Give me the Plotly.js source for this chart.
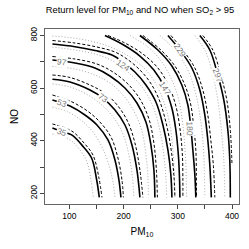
<!DOCTYPE html>
<html><head><meta charset="utf-8">
<script src="https://cdn.plot.ly/plotly-3.0.1.min.js"></script>
<style>html,body{margin:0;padding:0;background:#fff}</style>
</head><body><div id="chart" style="width:249px;height:249px"></div>
<script>
const levels = ["35","53","73","97","124","147","180","229","297"];
// solid contour paths (point estimate)
const solidX = [
  [68.9,86.0,104.4,125.8,141.3,150.5,155.3],
  [68.9,101.3,128.9,151,171.3,184.2,191.5,195.2],
  [68.9,101.3,138.1,162,184.2,202.6,215.5,224.7,230.2],
  [68.9,110.5,147.3,175,202.6,224.7,241.3,250.5,256,257.8],
  [68.9,110.5,147.3,178.6,198.9,221,241.3,259.7,272.6,281.8,287.3,289.2],
  [165.7,197.1,230.2,255.9,276.2,289.1,296.5,301.1,303.3,303.9],
  [230.2,263.3,289.1,307.5,318.6,324.1,327.8,331.5,333.3],
  [281.8,303.9,326,340.7,349.9,355.4,359.1,361.9],
  [340.7,359.1,373.8,384.9,392.3,395.9,396.9]
];
const solidY = [
  [448.6,435.3,421.9,377.2,333.1,250.6,184.4],
  [554.8,531.9,497.7,459.7,402.7,326.7,250.6,184.4],
  [633.4,623.2,592.8,562.3,516.8,459.7,383.7,288.7,184.4],
  [706.8,695.4,676.4,646,600.4,543.3,471.1,383.7,288.7,184.4],
  [767.7,757.4,742.9,725.8,699.2,661.2,611.8,547.2,459.7,364.7,269.7,184.4],
  [800,767.6,722,668.8,600.4,524.3,440.7,345.6,250.6,184.4],
  [800,744.9,684,611.8,535.8,448.4,364.7,269.7,184.4],
  [800,744.9,676.4,592.8,497.7,402.7,307.7,184.4],
  [800,744.9,649.9,554.8,440.8,326.7,184.4]
];
// dashed contour paths
const dashX = [
  [68.9,104.4,127.1,143.6,154.7,160.2],
  [68.9,101.3,130.8,154.7,176.8,189.7,197.1,199.8],
  [68.9,101.3,140.0,167.6,189.7,208.1,221.0,230.2,235.7],
  [68.9,110.5,151.0,180.5,208.1,230.2,246.8,255.9,260.6,262.4],
  [68.9,110.5,151.0,184.2,206.3,228.4,248.6,265.2,278.1,287.3,292.8,294.7],
  [171.3,202.6,235.7,263.4,283.6,296.5,303.9,308.5,309.4,309.4],
  [235.7,268.9,294.7,313.1,324.1,329.6,333.3,334.3,334.6],
  [287.3,309.4,331.5,346.2,355.4,360.9,365.6,368.3],
  [346.2,364.6,379.4,390.4,396.9,400]
];
const dashY = [
  [463.5,436.9,391.3,345.6,258.2,184.4],
  [573.7,550.9,516.7,474.9,414.1,334.2,250.6,184.4],
  [649.8,640.3,609.9,577.6,531.9,471.1,391.3,288.6,184.4],
  [720.1,710.6,691.6,661.2,615.6,558.5,482.5,391.3,288.6,184.4],
  [781.0,771.4,756.2,737.2,710.6,672.6,623.2,558.5,471.1,372.3,269.6,184.4],
  [800,771.4,729.6,676.4,608,531.9,448.3,345.6,250.6,184.4],
  [800,744.8,684.0,611.8,535.7,448.3,364.7,269.6,184.4],
  [800,744.8,676.4,592.8,497.7,402.7,307.6,184.4],
  [800,744.8,649.8,554.7,440.7,307.6]
];
// dotted grey contour paths
const dotX = [
  [68.9,101.3,119.7,132.6,140.0,144.2],
  [68.9,97.6,123.4,143.6,160.2,173.1,180.5,184.2],
  [68.9,101.3,134.4,160.2,182.3,198.9,210.0,216.4,219.1],
  [68.9,110.5,147.3,175.0,198.9,219.1,233.9,241.3,245.0,245.9],
  [68.9,110.5,147.3,180.5,208.1,233.9,254.1,267.0,274.4,278.1,279.4],
  [68.9,119.7,165.7,202.6,233.9,257.8,274.4,285.5,291.0,293.7,294.7],
  [211.8,245.0,270.7,289.1,302.0,309.4,314.0,315.8,316.2],
  [267.0,294.7,316.8,331.5,340.7,346.2,349.0,349.9],
  [331.5,351.7,364.6,373.8,380.3,384.9,386.7]
];
const dotY = [
  [425.5,402.7,364.7,319.0,250.6,184.4],
  [528.1,509.1,474.9,433.1,376.1,307.6,243.0,184.4],
  [615.6,604.2,573.7,535.7,486.3,425.5,345.6,262.0,184.4],
  [682.1,672.6,649.8,619.4,573.7,512.9,436.9,345.6,262.0,184.4],
  [756.2,744.8,729.6,703.0,661.2,604.2,531.9,440.7,345.6,262.0,184.4],
  [798.1,786.7,763.8,729.6,684.0,623.2,547.1,459.7,364.7,269.6,184.4],
  [800,756.2,699.2,630.8,554.7,459.7,345.6,250.6,184.4],
  [800,744.8,676.4,592.8,497.7,402.7,288.6,184.4],
  [800,737.2,649.8,554.7,440.7,326.6,184.4]
];
const labelX = [86,86,162.6,86,198.3,276.2,322,303.9,373.8];
const labelY = [434,544,561,700,688,600.4,448,745,650];
const labelAngle = [20,20,35,8,35,58,88,55,70];

const traces = [];
for (let i = 0; i < levels.length; i++) {
  traces.push({x: dotX[i], y: dotY[i], mode: 'lines', type: 'scatter',
    line: {color: '#a8a8a8', width: 1, dash: '1px,2px', shape: 'spline'}, hoverinfo: 'skip', showlegend: false});
}
for (let i = 0; i < levels.length; i++) {
  traces.push({x: dashX[i], y: dashY[i], mode: 'lines', type: 'scatter',
    line: {color: '#000', width: 1, dash: '3px,2px', shape: 'spline'}, hoverinfo: 'skip', showlegend: false});
}
for (let i = 0; i < levels.length; i++) {
  traces.push({x: solidX[i], y: solidY[i], mode: 'lines', type: 'scatter',
    line: {color: '#000', width: 1.6, shape: 'spline'}, hoverinfo: 'skip', showlegend: false});
}
const annotations = levels.map((t, i) => ({
  x: labelX[i], y: labelY[i], xref: 'x', yref: 'y', text: t, showarrow: false,
  textangle: labelAngle[i], font: {family: 'Liberation Sans', size: 8.5, color: '#777'},
  bgcolor: '#fff', borderpad: 0
}));

const layout = {
  width: 249, height: 249,
  margin: {l: 45, r: 9.7, t: 29, b: 45},
  paper_bgcolor: '#fff', plot_bgcolor: '#fff',
  font: {family: 'Liberation Sans', color: '#000'},
  title: {text: 'Return level for PM<sub>10</sub> and NO when SO<sub>2</sub> > 95',
    font: {size: 9.4, family: 'Liberation Sans', color: '#000'},
    x: 0.562, xanchor: 'center', y: 0.962, yanchor: 'middle'},
  xaxis: {range: [55.2, 412.9], tickvals: [100,150,200,250,300,350,400],
    ticktext: ['100','','200','','300','','400'],
    ticks: 'outside', ticklen: 4, tickcolor: '#444', showgrid: false, zeroline: false,
    showline: true, linecolor: '#666', mirror: true, linewidth: 1,
    tickfont: {size: 8.5}, title: {text: 'PM<sub>10</sub>', font: {size: 10}, standoff: 7}},
  yaxis: {range: [159.3, 824.7], tickvals: [200,300,400,500,600,700,800],
    ticktext: ['200','','400','','600','','800'], tickangle: -90,
    ticks: 'outside', ticklen: 4, tickcolor: '#444', showgrid: false, zeroline: false,
    showline: true, linecolor: '#666', mirror: true, linewidth: 1,
    tickfont: {size: 8.5}, title: {text: 'NO', font: {size: 10}, standoff: 8}},
  annotations: annotations
};
Plotly.newPlot('chart', traces, layout, {staticPlot: true, displayModeBar: false});
</script></body></html>
